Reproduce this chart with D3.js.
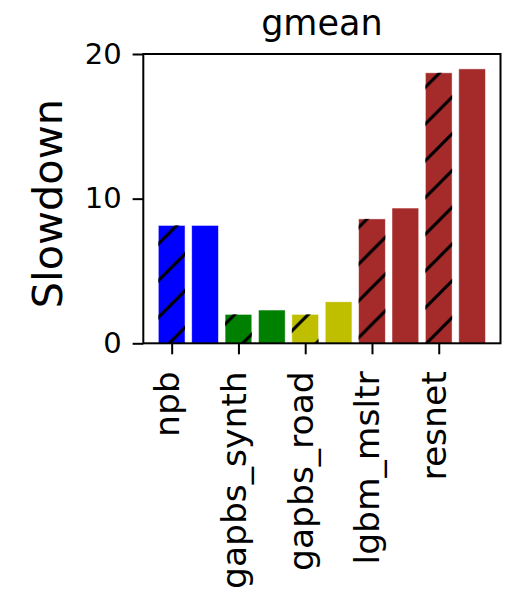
<!DOCTYPE html>
<head>
    <meta charset="utf-8">
    <script src="https://d3js.org/d3.v7.min.js"></script>
    <style>
        body { margin: 0; background: #fff; }
        text { font-family: "DejaVu Sans", sans-serif; fill: #000; }
    </style>
</head>
<body>
    <svg id="chart" width="506" height="598"></svg>
    <script>
        // data
        var categories = ["npb", "gapbs_synth", "gapbs_road", "lgbm_msltr", "resnet"];
        var barColors = ["#0000ff", "#008000", "#bfbf00", "#a52a2a", "#a52a2a"];
        var hatchedValues = [8.15, 2.0, 2.0, 8.6, 18.7];
        var solidValues = [8.15, 2.3, 2.87, 9.35, 18.97];
        var yTicks = [0, 10, 20];

        var svg = d3.select("#chart");

        // plot area (window.top is reserved, so own names)
        var plotLeft = 143.3, plotRight = 500.5, plotTop = 54, plotBottom = 343.3;

        var x = d3.scaleLinear().domain([-0.85, 9.85]).range([plotLeft, plotRight]);
        var y = d3.scaleLinear().domain([0, 20]).range([plotBottom, plotTop]);
        var barW = x(0.8) - x(0);

        // hatch pattern "/" aligned to the page
        var s = 36.75;
        var defs = svg.append("defs");
        var pat = defs.append("pattern")
            .attr("id", "hatch")
            .attr("patternUnits", "userSpaceOnUse")
            .attr("x", 0).attr("y", -2)
            .attr("width", s).attr("height", s);
        pat.append("path")
            .attr("d", "M0," + s + "L" + s + ",0M-3,3L3,-3M" + (s - 3) + "," + (s + 3) + "L" + (s + 3) + "," + (s - 3))
            .attr("stroke", "#000")
            .attr("stroke-width", 3);

        // the bars, one hatched and one plain per category
        var bars = [];
        categories.forEach(function (c, i) {
            bars.push({ pos: 2 * i, value: hatchedValues[i], color: barColors[i], hatch: true });
            bars.push({ pos: 2 * i + 1, value: solidValues[i], color: barColors[i], hatch: false });
        });

        var g = svg.append("g");
        g.selectAll("rect.bar")
            .data(bars)
            .enter().append("rect")
            .attr("class", "bar")
            .attr("x", function (d) { return x(d.pos) - barW / 2; })
            .attr("y", function (d) { return y(d.value); })
            .attr("width", barW)
            .attr("height", function (d) { return y(0) - y(d.value); })
            .attr("fill", function (d) { return d.color; })
            .attr("stroke", "#fff")
            .attr("stroke-opacity", 0.6)
            .attr("stroke-width", 0.8);

        g.selectAll("rect.hatch")
            .data(bars.filter(function (d) { return d.hatch; }))
            .enter().append("rect")
            .attr("class", "hatch")
            .attr("x", function (d) { return x(d.pos) - barW / 2; })
            .attr("y", function (d) { return y(d.value); })
            .attr("width", barW)
            .attr("height", function (d) { return y(0) - y(d.value); })
            .attr("fill", "url(#hatch)");

        // frame
        svg.append("rect")
            .attr("x", plotLeft).attr("y", plotTop)
            .attr("width", plotRight - plotLeft).attr("height", plotBottom - plotTop)
            .attr("fill", "none")
            .attr("stroke", "#000")
            .attr("stroke-width", 2);

        // y axis
        var yAxis = svg.append("g")
            .attr("transform", "translate(" + plotLeft + ",0)")
            .call(d3.axisLeft(y).tickValues(yTicks).tickSize(10.7).tickPadding(11));
        yAxis.select(".domain").remove();
        yAxis.selectAll(".tick line").attr("stroke-width", 2);
        yAxis.selectAll(".tick text")
            .style("font-size", "29px")
            .attr("font-family", null);

        // x axis
        var xAxis = svg.append("g")
            .attr("transform", "translate(0," + plotBottom + ")")
            .call(d3.axisBottom(x)
                .tickValues(categories.map(function (c, i) { return 2 * i; }))
                .tickFormat(function (d) { return categories[d / 2]; })
                .tickSize(11));
        xAxis.select(".domain").remove();
        xAxis.selectAll(".tick line").attr("stroke-width", 2);
        xAxis.selectAll(".tick text")
            .style("font-size", "34.5px")
            .attr("font-family", null)
            .attr("text-anchor", "end")
            .attr("y", 0)
            .attr("dy", "0.2em")
            .attr("transform", "translate(0,28) rotate(-90)");

        // title and y label
        svg.append("text")
            .attr("x", (plotLeft + plotRight) / 2)
            .attr("y", 35)
            .attr("text-anchor", "middle")
            .style("font-size", "35px")
            .text("gmean");

        svg.append("text")
            .attr("transform", "translate(61.7," + ((plotTop + plotBottom) / 2 + 5) + ") rotate(-90)")
            .attr("text-anchor", "middle")
            .style("font-size", "41.5px")
            .text("Slowdown");
    </script>
</body>
